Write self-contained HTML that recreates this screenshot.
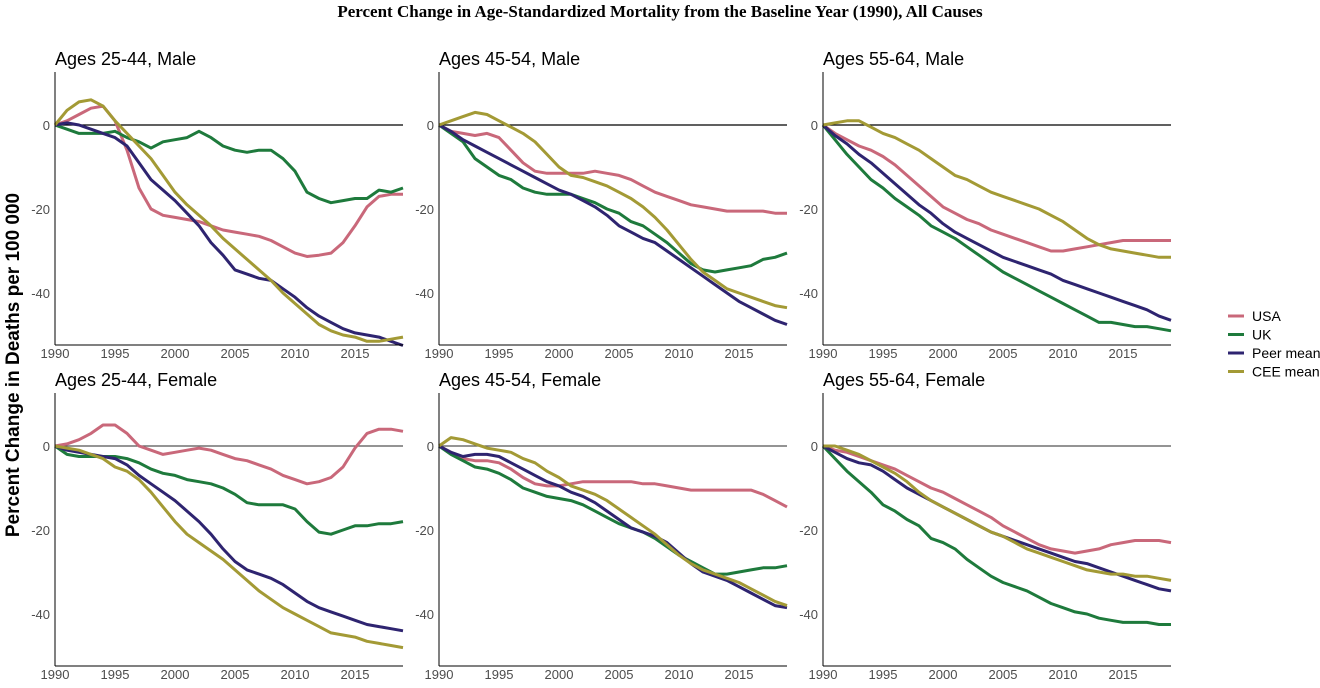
<!DOCTYPE html>
<html><head><meta charset="utf-8"><style>
body{margin:0;background:#fff;}
svg{display:block;font-family:"Liberation Sans",sans-serif;}
</style></head><body>
<svg id="chart" width="1320" height="688">
<text x="660" y="17" text-anchor="middle" font-family="Liberation Serif,serif" font-weight="bold" font-size="17">Percent Change in Age-Standardized Mortality from the Baseline Year (1990), All Causes</text>
<text transform="translate(19,365) rotate(-90)" text-anchor="middle" font-weight="bold" font-size="19">Percent Change in  Deaths per 100 000</text>
<g id="panels"></g>
<g id="legend"></g>
</svg>
<script>
const years=[1990,1991,1992,1993,1994,1995,1996,1997,1998,1999,2000,2001,2002,2003,2004,2005,2006,2007,2008,2009,2010,2011,2012,2013,2014,2015,2016,2017,2018,2019];
const xTicks=[1990,1995,2000,2005,2010,2015];
const yTicks=[0,-20,-40];
const seriesNames=["USA","UK","Peer mean","CEE mean"];
const panelTitles=["Ages 25-44, Male","Ages 45-54, Male","Ages 55-64, Male","Ages 25-44, Female","Ages 45-54, Female","Ages 55-64, Female"];
const m2544USA=[0,1,2.5,4,4.5,1,-6,-15,-20,-21.5,-22,-22.5,-23,-24,-25,-25.5,-26,-26.5,-27.5,-29,-30.5,-31.3,-31,-30.5,-28,-24,-19.5,-17,-16.5,-16.5];
const m2544UK=[0,-1,-2,-2,-2,-1.5,-3,-4,-5.5,-4,-3.5,-3,-1.5,-3,-5,-6,-6.5,-6,-6,-8,-11,-16,-17.5,-18.5,-18,-17.5,-17.5,-15.5,-16,-15];
const m2544Peer=[0,0.5,0,-1,-2,-3,-5,-9,-13,-15.5,-18,-21,-24,-28,-31,-34.5,-35.5,-36.5,-37,-39,-41,-43.5,-45.5,-47,-48.5,-49.5,-50,-50.5,-51.5,-52.5];
const m2544CEE=[0,3.5,5.5,6,4.5,1,-2,-5,-8,-12,-16,-19,-21.5,-24,-27,-29.5,-32,-34.5,-37,-40,-42.5,-45,-47.5,-49,-50,-50.5,-51.5,-51.5,-51,-50.5];
const m4554USA=[0,-1.5,-2,-2.5,-2,-3,-6,-9,-11,-11.5,-11.5,-11.5,-11.5,-11,-11.5,-12,-13,-14.5,-16,-17,-18,-19,-19.5,-20,-20.5,-20.5,-20.5,-20.5,-21,-21];
const m4554UK=[0,-2,-4,-8,-10,-12,-13,-15,-16,-16.5,-16.5,-16.5,-17.5,-18.5,-20,-21,-23,-24,-26,-28,-30.5,-33,-34.5,-35,-34.5,-34,-33.5,-32,-31.5,-30.5];
const m4554Peer=[0,-1.5,-3.5,-5,-6.5,-8,-9.5,-11,-12.5,-14,-15.5,-16.5,-18,-19.5,-21.5,-24,-25.5,-27,-28,-30,-32,-34,-36,-38,-40,-42,-43.5,-45,-46.5,-47.5];
const m4554CEE=[0,1,2,3,2.5,1,-0.5,-2,-4,-7,-10,-12,-12.5,-13.5,-14.5,-16,-17.5,-19.5,-22,-25,-28.5,-32,-35,-37,-39,-40,-41,-42,-43,-43.5];
const m5564USA=[0,-2,-3.5,-5,-6,-7.5,-9.5,-12,-14.5,-17,-19.5,-21,-22.5,-23.5,-25,-26,-27,-28,-29,-30,-30,-29.5,-29,-28.5,-28,-27.5,-27.5,-27.5,-27.5,-27.5];
const m5564UK=[0,-3.5,-7,-10,-13,-15,-17.5,-19.5,-21.5,-24,-25.5,-27,-29,-31,-33,-35,-36.5,-38,-39.5,-41,-42.5,-44,-45.5,-47,-47,-47.5,-48,-48,-48.5,-49];
const m5564Peer=[0,-2.5,-4.5,-7,-9,-11.5,-14,-16.5,-19,-21,-23.5,-25.5,-27,-28.5,-30,-31.5,-32.5,-33.5,-34.5,-35.5,-37,-38,-39,-40,-41,-42,-43,-44,-45.5,-46.5];
const m5564CEE=[0,0.5,1,1,-0.5,-2,-3,-4.5,-6,-8,-10,-12,-13,-14.5,-16,-17,-18,-19,-20,-21.5,-23,-25,-27,-28.5,-29.5,-30,-30.5,-31,-31.5,-31.5];
const f2544USA=[0,0.5,1.5,3,5,5,3,0,-1,-2,-1.5,-1,-0.5,-1,-2,-3,-3.5,-4.5,-5.5,-7,-8,-9,-8.5,-7.5,-5,-0.5,3,4,4,3.5];
const f2544UK=[0,-2,-2.5,-2.5,-2.5,-2.5,-3,-4,-5.5,-6.5,-7,-8,-8.5,-9,-10,-11.5,-13.5,-14,-14,-14,-15,-18,-20.5,-21,-20,-19,-19,-18.5,-18.5,-18];
const f2544Peer=[0,-1,-1.5,-2,-2.5,-3,-4.5,-7,-9,-11,-13,-15.5,-18,-21,-24.5,-27.5,-29.5,-30.5,-31.5,-33,-35,-37,-38.5,-39.5,-40.5,-41.5,-42.5,-43,-43.5,-44];
const f2544CEE=[0,-0.5,-1,-2,-3,-5,-6,-8,-11,-14.5,-18,-21,-23,-25,-27,-29.5,-32,-34.5,-36.5,-38.5,-40,-41.5,-43,-44.5,-45,-45.5,-46.5,-47,-47.5,-48];
const f4554USA=[0,-1.5,-3,-3.5,-3.5,-4,-5.5,-7.5,-9,-9.5,-9.5,-9,-8.5,-8.5,-8.5,-8.5,-8.5,-9,-9,-9.5,-10,-10.5,-10.5,-10.5,-10.5,-10.5,-10.5,-11.5,-13,-14.5];
const f4554UK=[0,-2,-3.5,-5,-5.5,-6.5,-8,-10,-11,-12,-12.5,-13,-14,-15.5,-17,-18.5,-19.5,-20.5,-22,-24,-26,-27.5,-29,-30.5,-30.5,-30,-29.5,-29,-29,-28.5];
const f4554Peer=[0,-1.5,-2.5,-2,-2,-2.5,-4,-5.5,-7,-8.5,-9.5,-11,-12,-13.5,-15.5,-17.5,-19.5,-20.5,-21.5,-23,-25.5,-28,-30,-31,-32,-33.5,-35,-36.5,-38,-38.5];
const f4554CEE=[0,2,1.5,0.5,-0.5,-1,-1.5,-3,-4,-6,-7.5,-9.5,-10.5,-11.5,-13,-15,-17,-19,-21,-23.5,-26,-28,-29.5,-30.5,-31.5,-32.5,-34,-35.5,-37,-38];
const f5564USA=[0,-1,-1.5,-2.5,-3.5,-4.5,-5.5,-7,-8.5,-10,-11,-12.5,-14,-15.5,-17,-19,-20.5,-22,-23.5,-24.5,-25,-25.5,-25,-24.5,-23.5,-23,-22.5,-22.5,-22.5,-23];
const f5564UK=[0,-3,-6,-8.5,-11,-14,-15.5,-17.5,-19,-22,-23,-24.5,-27,-29,-31,-32.5,-33.5,-34.5,-36,-37.5,-38.5,-39.5,-40,-41,-41.5,-42,-42,-42,-42.5,-42.5];
const f5564Peer=[0,-1.5,-3,-4,-4.5,-6,-8,-10,-11.5,-13,-14.5,-16,-17.5,-19,-20.5,-21.5,-22.5,-23.5,-24.5,-25.5,-26.5,-27.5,-28,-29,-30,-31,-32,-33,-34,-34.5];
const f5564CEE=[0,0,-1,-2,-3.5,-5,-6.5,-8.5,-11,-13,-14.5,-16,-17.5,-19,-20.5,-21.5,-23,-24.5,-25.5,-26.5,-27.5,-28.5,-29.5,-30,-30.5,-30.5,-31,-31,-31.5,-32];

const panelData=[[m2544USA,m2544UK,m2544Peer,m2544CEE],[m4554USA,m4554UK,m4554Peer,m4554CEE],[m5564USA,m5564UK,m5564Peer,m5564CEE],[f2544USA,f2544UK,f2544Peer,f2544CEE],[f4554USA,f4554UK,f4554Peer,f4554CEE],[f5564USA,f5564UK,f5564Peer,f5564CEE]];
const colors=["#c9687a","#1e7a3c","#2e2470","#a39a35"];
const NS="http://www.w3.org/2000/svg";
const root=document.getElementById("panels");
function mk(tag,attrs,parent){const e=document.createElementNS(NS,tag);for(const k in attrs)e.setAttribute(k,attrs[k]);parent.appendChild(e);return e;}
const lefts=[55,439,823];const zeros=[125,446];
const W=348,YPX=4.2;
panelData.forEach((series,i)=>{
  const col=i%3,row=Math.floor(i/3);
  const x0=lefts[col],y0=zeros[row];
  const top=y0-53,bottom=y0+220;
  const xS=v=>x0+(v-1990)*(W/29);
  const yS=v=>y0-v*YPX;
  const g=mk("g",{},root);
  
  
  const t=mk("text",{x:x0,y:top-7,"font-size":18,fill:"#000"},g);
  t.textContent=panelTitles[i];
  
  
  const zl=mk("line",{x1:x0,x2:x0+W,y1:yS(0),y2:yS(0),stroke:row==0?"#000":"#555","stroke-width":1.3},g);
  
  
  yTicks.forEach(v=>{
    const tl=mk("text",{x:x0-5,y:yS(v)+5,"text-anchor":"end","font-size":13,fill:"#4d4d4d"},g);
    tl.textContent=v;
    
    
  });
  xTicks.forEach(v=>{
    const tl=mk("text",{x:xS(v),y:bottom+13,"text-anchor":"middle","font-size":13,fill:"#4d4d4d"},g);
    tl.textContent=v;
    
    
  });
  series.forEach((vals,s)=>{
    const p=mk("polyline",{points:vals.map((v,k)=>xS(years[k])+","+yS(v)).join(" "),fill:"none",stroke:colors[s],"stroke-width":3,"stroke-linejoin":"round"},g);
    
    
  });
  const ya=mk("line",{x1:x0,x2:x0,y1:top,y2:bottom,stroke:"#000","stroke-width":1},g);
  
  
  const xa=mk("line",{x1:x0,x2:x0+W,y1:bottom,y2:bottom,stroke:"#000","stroke-width":1},g);
  
  
});
const lg=document.getElementById("legend");
seriesNames.forEach((n,s)=>{
  const y=316+s*18.5;
  const l=mk("line",{x1:1228,x2:1244,y1:y,y2:y,stroke:colors[s],"stroke-width":3},lg);
  
  
  const t=mk("text",{x:1252,y:y+5,"font-size":14,fill:"#000"},lg);
  t.textContent=n;
  
  
});
</script>
</body></html>
